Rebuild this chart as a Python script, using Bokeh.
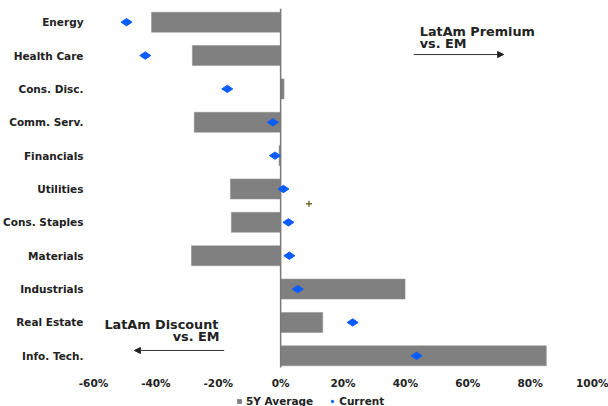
from bokeh.plotting import figure
from bokeh.layouts import column
from bokeh.models import (ColumnDataSource, Range1d, FixedTicker, Label, Arrow,
                          NormalHead, Legend, LegendItem)
from bokeh.embed import file_html
from bokeh.resources import INLINE

# Sector valuation premium / discount of LatAm vs. EM (%)
sectors = ["Energy", "Health Care", "Cons. Disc.", "Comm. Serv.", "Financials",
           "Utilities", "Cons. Staples", "Materials", "Industrials",
           "Real Estate", "Info. Tech."]
avg_5y = [-41.4, -28.3, 1.1, -27.7, -0.5, -16.1, -15.8, -28.6, 39.9, 13.5, 85.2]
current = [-49.4, -43.4, -17.1, -2.5, -1.8, 0.9, 2.5, 2.8, 5.5, 23.1, 43.6]
x_ticks = [-60, -40, -20, 0, 20, 40, 60, 80, 100]
x_tick_labels = ["-60%", "-40%", "-20%", "0%", "20%", "40%", "60%", "80%", "100%"]

FONT = "DejaVu Sans"
TXT = "#222222"
BAR = "#808080"
BLUE = "#0a5cff"

rows = list(range(len(sectors)))
src = ColumnDataSource(dict(y=rows, avg=avg_5y, cur=current, zero=[0] * len(rows)))

p = figure(width=608, height=392, output_backend="svg", toolbar_location=None,
           x_range=Range1d(-60, 100), y_range=Range1d(len(sectors) - 0.5, -0.5),
           min_border_left=92, min_border_right=16, min_border_top=5,
           min_border_bottom=20)
p.outline_line_color = None
p.xgrid.visible = False
p.ygrid.visible = False

p.hbar(y="y", left="zero", right="avg", height=0.6, source=src,
       fill_color=BAR, line_color="#8f8f8f", line_width=0.5)

# zero reference line
p.segment(x0=[0], x1=[0], y0=[-0.4], y1=[10.35], line_color="#7a7a7a", line_width=1.5)

p.scatter(x="cur", y="y", source=src, marker="diamond", angle=1.5708, size=11,
          fill_color=BLUE, line_color=BLUE)

# small stray marker
p.scatter(x=[9.1], y=[5.44], marker="cross", size=6, line_color="#6e6e30", line_width=1.5)

# axes
p.yaxis.ticker = FixedTicker(ticks=rows)
p.yaxis.major_label_overrides = {i: s for i, s in enumerate(sectors)}
p.xaxis.ticker = FixedTicker(ticks=x_ticks)
p.xaxis.major_label_overrides = {v: s for v, s in zip(x_ticks, x_tick_labels)}
for ax in (p.xaxis[0], p.yaxis[0]):
    ax.axis_line_color = None
    ax.major_tick_line_color = None
    ax.minor_tick_line_color = None
    ax.major_tick_out = 0
    ax.major_tick_in = 0
    ax.minor_tick_out = 0
    ax.major_label_text_font = FONT
    ax.major_label_text_font_style = "bold"
    ax.major_label_text_font_size = "10.5px"
    ax.major_label_text_color = TXT
p.yaxis.major_label_standoff = 10
p.xaxis.major_label_standoff = 4

# direction annotations
def note(x, y, text, align="left"):
    p.add_layout(Label(x=x, y=y, text=text, text_font=FONT, text_font_style="bold",
                       text_font_size="12.8px", text_color=TXT, text_align=align,
                       text_baseline="middle"))

note(44.6, 0.27, "LatAm Premium")
note(44.6, 0.65, "vs. EM")
p.add_layout(Arrow(x_start=42.7, y_start=0.97, x_end=71.5, y_end=0.97,
                   line_color="#333333", line_width=1,
                   end=NormalHead(size=6, fill_color="#222222", line_color="#222222")))

note(-56.5, 9.06, "LatAm Discount")
note(-19.6, 9.42, "vs. EM", align="right")
p.add_layout(Arrow(x_start=-18.1, y_start=9.84, x_end=-46.9, y_end=9.84,
                   line_color="#333333", line_width=1,
                   end=NormalHead(size=6, fill_color="#222222", line_color="#222222")))

# legend strip underneath the chart
q = figure(width=608, height=14, output_backend="svg", toolbar_location=None,
           x_range=Range1d(0, 1), y_range=Range1d(0, 1),
           x_axis_location=None, y_axis_location=None,
           min_border_left=0, min_border_right=0, min_border_top=0, min_border_bottom=0)
q.outline_line_color = None
q.xgrid.visible = False
q.ygrid.visible = False
nan = float("nan")
sw_bar = q.hbar(y=[nan], left=[nan], right=[nan], height=1, fill_color=BAR, line_color=None)
sw_dot = q.scatter(x=[nan], y=[nan], marker="circle", size=5,
                   fill_color=BLUE, line_color=BLUE)

legend = Legend(items=[LegendItem(label="5Y Average", renderers=[sw_bar]),
                       LegendItem(label="Current", renderers=[sw_dot])],
                orientation="horizontal", location=(143, -1),
                glyph_width=6, glyph_height=6, label_height=10, label_standoff=4,
                spacing=16, padding=0, margin=0, border_line_color=None,
                background_fill_alpha=0, label_text_font=FONT,
                label_text_font_style="bold", label_text_font_size="10.5px",
                label_text_color=TXT)
q.add_layout(legend, "center")

open("out.html", "w").write(file_html(column(p, q, spacing=0), INLINE))
